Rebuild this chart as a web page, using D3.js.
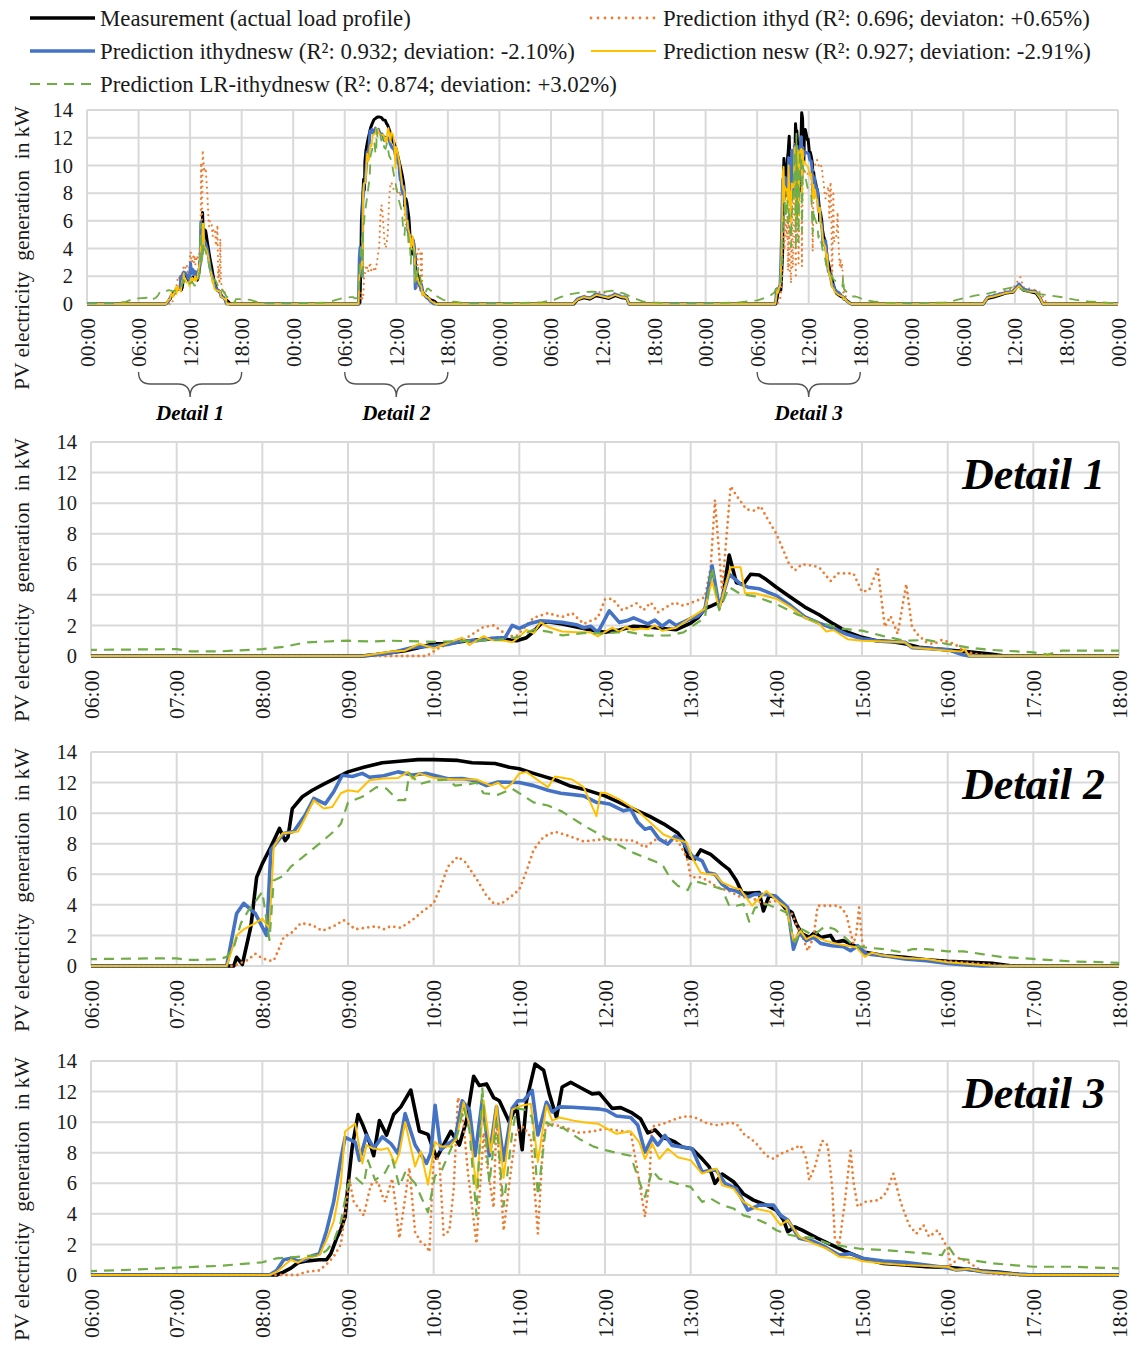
<!DOCTYPE html>
<html><head><meta charset="utf-8">
<script src="https://cdn.jsdelivr.net/npm/d3@7"></script>
<style>
html,body{margin:0;padding:0;background:#fff;}
svg text{font-family:"Liberation Serif","Times New Roman",serif;}
</style></head><body>
<svg id="chart" width="1137" height="1346"></svg>
<script>
// ---------------- DATA (time "HH:MM", value kW) ----------------
const legendLabels = [
  "Measurement (actual load profile)",
  "Prediction ithyd (R\u00B2: 0.696; deviaton: +0.65%)",
  "Prediction ithydnesw (R\u00B2: 0.932; deviation: -2.10%)",
  "Prediction nesw (R\u00B2: 0.927; deviation: -2.91%)",
  "Prediction LR-ithydnesw (R\u00B2: 0.874; deviation: +3.02%)"
];
const yTicks = [0,2,4,6,8,10,12,14];
const topTickLabels = ["00:00","06:00","12:00","18:00","00:00","06:00","12:00","18:00","00:00","06:00","12:00","18:00","00:00","06:00","12:00","18:00","00:00","06:00","12:00","18:00","00:00"];
const detailTickLabels = ["06:00","07:00","08:00","09:00","10:00","11:00","12:00","13:00","14:00","15:00","16:00","17:00","18:00"];
const detailTitles = ["Detail 1","Detail 2","Detail 3"];

// Day 1 (Detail 1)
const measDay1 = [["00:00",0],["09:10",0],["09:20",0.1],["09:40",0.35],["09:50",0.55],["10:00",0.8],["10:10",0.8],["10:20",0.95],["10:30",1.05],["10:45",1.15],["10:58",1.0],["11:05",1.2],["11:10",1.6],["11:15",2.1],["11:20",2.25],["11:30",2.1],["11:40",1.9],["11:50",1.7],["12:00",1.55],["12:10",1.7],["12:20",1.95],["12:30",1.9],["12:40",1.8],["12:50",1.72],["13:00",2.15],["13:05",2.5],["13:10",3.1],["13:15",3.3],["13:22",3.6],["13:27",6.6],["13:32",4.8],["13:37",4.7],["13:42",5.35],["13:48",5.3],["13:53",5.0],["14:00",4.5],["14:10",3.85],["14:20",3.2],["14:30",2.7],["14:40",2.1],["14:50",1.55],["15:00",1.22],["15:10",1.0],["15:20",0.95],["15:30",0.8],["15:40",0.57],["16:00",0.39],["16:15",0.28],["16:30",0.13],["16:40",0],["24:00",0]];
const ithydDay1 = [["00:00",0],["09:55",0],["10:05",0.6],["10:20",1.0],["10:35",1.9],["10:42",2.0],["10:48",1.6],["10:52",1.3],["10:58",1.3],["11:05",2.0],["11:10",2.5],["11:20",2.8],["11:30",2.55],["11:37",2.8],["11:45",2.1],["11:55",2.5],["12:00",3.7],["12:05",3.75],["12:12",3.0],["12:17",3.2],["12:22",3.45],["12:27",3.0],["12:32",3.5],["12:37",2.85],["12:43",3.2],["12:49",3.5],["12:54",3.3],["12:58",3.4],["13:04",3.6],["13:10",3.85],["13:14",5.8],["13:17",10.2],["13:22",4.3],["13:28",11.1],["13:32",10.5],["13:39",9.6],["13:45",9.5],["13:49",9.8],["13:53",9.1],["14:00",8.0],["14:09",6.0],["14:13",5.6],["14:18",6.0],["14:26",5.9],["14:30",5.8],["14:38",4.9],["14:43",5.4],["14:54",5.4],["15:00",4.2],["15:05",4.3],["15:11",5.7],["15:16",1.9],["15:20",2.6],["15:25",1.45],["15:31",4.7],["15:35",1.9],["15:39",1.4],["15:45",0.9],["15:50",0.78],["15:56",1.05],["16:05",0.78],["16:11",0.35],["16:19",0.13],["16:30",0],["24:00",0]];
const ithydneswDay1 = [["00:00",0],["09:10",0],["09:30",0.2],["09:45",0.55],["09:50",0.6],["10:00",0.65],["10:10",0.75],["10:20",1.0],["10:30",1.0],["10:40",1.15],["10:50",1.2],["10:55",2.0],["11:00",1.8],["11:08",2.15],["11:15",2.3],["11:30",2.2],["11:40",2.05],["11:45",1.85],["11:50",1.95],["11:55",1.55],["12:03",2.95],["12:10",2.2],["12:15",2.3],["12:20",2.5],["12:25",2.3],["12:30",2.1],["12:35",2.35],["12:40",1.95],["12:45",2.3],["12:50",2.0],["13:00",2.45],["13:05",2.6],["13:10",3.05],["13:15",5.9],["13:20",3.2],["13:27",5.35],["13:35",4.7],["13:40",4.5],["13:48",4.4],["14:00",3.95],["14:10",3.3],["14:20",2.55],["14:30",2.15],["14:40",1.8],["14:50",1.4],["15:00",1.13],["15:15",0.95],["15:30",0.9],["15:35",0.55],["15:45",0.5],["16:00",0.42],["16:10",0.1],["16:15",0],["24:00",0]];
const neswDay1 = [["00:00",0],["09:10",0],["09:20",0.15],["09:30",0.3],["09:40",0.35],["09:50",0.8],["10:00",0.5],["10:10",0.85],["10:20",1.2],["10:25",0.72],["10:35",1.3],["10:40",1.05],["10:50",1.0],["10:55",0.9],["11:00",1.25],["11:05",1.7],["11:10",1.5],["11:15",2.2],["11:20",1.9],["11:30",1.6],["11:40",1.55],["11:50",1.55],["11:55",1.28],["12:05",1.85],["12:10",1.6],["12:15",1.9],["12:20",1.7],["12:25",1.8],["12:30",1.75],["12:35",2.0],["12:40",1.65],["12:50",1.85],["13:00",2.5],["13:10",3.1],["13:15",4.9],["13:20",3.1],["13:28",5.8],["13:35",5.8],["13:38",4.1],["13:45",4.1],["14:00",3.75],["14:10",3.2],["14:20",2.5],["14:30",2.1],["14:35",1.6],["14:40",1.7],["14:50",1.1],["15:00",1.0],["15:15",0.95],["15:30",0.9],["15:35",0.55],["16:00",0.35],["16:10",0.3],["16:12",0.46],["16:15",0],["24:00",0]];
const lrDay1 = [["00:00",0.05],["03:00",0.05],["04:30",0.15],["05:30",0.4],["06:00",0.4],["07:00",0.45],["07:10",0.3],["07:30",0.3],["08:00",0.45],["08:15",0.6],["08:30",0.88],["08:45",0.95],["09:00",1.0],["09:15",0.95],["09:30",1.0],["10:00",0.93],["10:30",1.0],["10:45",1.05],["11:00",1.26],["11:10",1.74],["11:20",1.6],["11:30",1.35],["11:45",1.5],["12:00",1.48],["12:15",1.6],["12:30",1.33],["12:45",1.35],["12:55",1.55],["13:05",2.2],["13:10",2.5],["13:15",5.8],["13:20",3.0],["13:27",4.5],["13:35",4.05],["13:45",3.9],["14:00",3.4],["14:15",2.7],["14:30",2.2],["14:45",1.8],["15:00",1.66],["15:15",1.3],["15:30",1.0],["15:45",1.05],["16:00",0.78],["16:15",0.55],["16:30",0.4],["17:00",0.24],["17:10",0.1],["17:20",0.35],["18:00",0.35],["19:00",0.3],["20:00",0.1],["21:00",0.05],["24:00",0.05]];

// Day 2 (Detail 2)
const measDay2 = [["00:00",0],["07:40",0],["07:42",0.57],["07:46",0.1],["07:52",2.6],["07:56",5.8],["08:00",6.7],["08:06",7.8],["08:12",9.0],["08:16",8.2],["08:18",8.45],["08:21",10.3],["08:28",11.07],["08:35",11.5],["08:43",11.9],["08:51",12.27],["09:00",12.7],["09:11",13.0],["09:24",13.3],["09:36",13.4],["09:49",13.5],["10:00",13.5],["10:17",13.45],["10:27",13.3],["10:43",13.25],["10:53",13.0],["11:00",12.9],["11:10",12.6],["11:26",12.15],["11:35",11.8],["11:45",11.57],["12:00",11.13],["12:10",10.7],["12:20",10.26],["12:31",9.8],["12:41",9.3],["12:51",8.7],["12:55",8.2],["12:58",7.1],["13:03",7.0],["13:07",7.6],["13:14",7.3],["13:22",6.67],["13:27",6.3],["13:32",5.6],["13:36",4.8],["13:40",4.75],["13:48",4.8],["13:51",3.6],["13:55",4.6],["14:00",4.5],["14:06",3.8],["14:11",3.5],["14:14",2.75],["14:18",2.1],["14:23",1.87],["14:27",2.2],["14:31",1.87],["14:38",2.0],["14:41",1.55],["14:47",1.66],["14:52",1.44],["14:57",1.22],["15:02",0.9],["15:15",0.68],["15:30",0.57],["15:45",0.41],["16:00",0.3],["16:16",0.24],["16:31",0.17],["16:44",0.02],["17:00",0],["24:00",0]];
const ithydDay2 = [["00:00",0],["07:40",0],["07:50",0.4],["07:55",0.8],["08:00",0.5],["08:05",0.35],["08:08",0.35],["08:12",1.2],["08:15",1.9],["08:20",2.13],["08:27",2.8],["08:35",2.68],["08:42",2.3],["08:50",2.6],["08:57",3.0],["09:05",2.4],["09:12",2.5],["09:20",2.6],["09:25",2.4],["09:30",2.6],["09:37",2.5],["09:45",3.0],["09:52",3.55],["10:00",4.1],["10:05",5.2],["10:10",6.5],["10:17",7.15],["10:22",6.8],["10:30",5.7],["10:37",4.6],["10:42",4.1],["10:47",4.05],["10:55",4.6],["11:00",5.0],["11:05",6.2],["11:10",7.6],["11:17",8.45],["11:25",8.78],["11:33",8.56],["11:45",8.15],["12:00",8.3],["12:20",8.2],["12:28",7.75],["12:36",8.3],["12:44",8.2],["12:51",8.2],["12:55",7.5],["12:58",6.9],["13:00",5.8],["13:07",5.8],["13:12",5.58],["13:19",5.14],["13:27",4.9],["13:35",4.5],["13:42",4.5],["13:51",4.05],["13:58",4.27],["14:03",4.2],["14:11",3.4],["14:14",2.75],["14:18",2.0],["14:22",1.0],["14:26",1.87],["14:29",3.94],["14:34",3.94],["14:44",3.94],["14:49",3.4],["14:52",2.2],["14:54",1.44],["14:56",2.1],["14:58",3.83],["15:00",1.66],["15:03",0.78],["15:15",0.68],["15:30",0.5],["16:00",0.3],["16:30",0.1],["16:45",0],["24:00",0]];
const ithydneswDay2 = [["00:00",0],["07:35",0],["07:42",3.44],["07:47",4.1],["07:55",3.44],["08:03",2.0],["08:06",7.6],["08:15",8.67],["08:22",8.8],["08:30",9.87],["08:36",10.96],["08:44",10.6],["08:50",11.4],["08:56",12.48],["09:03",12.4],["09:10",12.6],["09:15",12.35],["09:25",12.45],["09:35",12.7],["09:45",12.5],["09:55",12.6],["10:00",12.48],["10:10",12.25],["10:20",12.26],["10:30",12.1],["10:37",11.8],["10:45",12.04],["11:00",12.0],["11:10",11.8],["11:20",11.5],["11:29",11.3],["11:45",11.13],["11:54",10.7],["11:57",10.7],["12:03",10.6],["12:13",10.15],["12:18",10.26],["12:23",9.4],["12:28",8.95],["12:32",9.06],["12:38",8.3],["12:44",7.97],["12:49",8.5],["12:54",8.2],["13:01",7.2],["13:08",6.88],["13:12",6.1],["13:17",6.0],["13:22",5.36],["13:27",5.0],["13:32",4.9],["13:40",4.5],["13:45",4.7],["13:53",4.66],["13:59",4.6],["14:03",4.27],["14:08",3.83],["14:12",1.1],["14:16",2.2],["14:21",1.66],["14:26",1.87],["14:31",1.48],["14:39",1.33],["14:47",1.26],["14:52",1.0],["14:57",1.33],["15:03",0.78],["15:15",0.68],["15:30",0.46],["15:45",0.35],["16:00",0.17],["16:11",0.09],["16:24",0],["24:00",0]];
const neswDay2 = [["00:00",0],["07:35",0],["07:42",2.0],["07:47",2.4],["07:55",2.8],["08:00",3.1],["08:05",2.46],["08:08",7.8],["08:14",8.67],["08:25",8.8],["08:30",9.7],["08:36",10.85],["08:43",10.3],["08:49",10.4],["08:55",11.3],["09:00",11.5],["09:07",11.4],["09:15",12.15],["09:25",12.26],["09:35",12.3],["09:42",12.7],["09:45",12.25],["09:50",12.6],["10:00",12.3],["10:15",12.2],["10:30",12.2],["10:40",11.8],["10:45",12.0],["10:50",11.6],["10:55",11.96],["11:00",12.6],["11:05",12.7],["11:13",12.15],["11:20",11.7],["11:25",12.4],["11:37",12.2],["11:45",11.7],["11:54",9.8],["11:57",11.35],["12:01",11.3],["12:10",10.9],["12:23",10.15],["12:33",9.28],["12:41",8.6],["12:49",8.3],["12:57",8.1],["13:01",7.1],["13:07",6.1],["13:12",6.0],["13:17",6.0],["13:22",5.47],["13:30",5.14],["13:35",5.0],["13:43",3.94],["13:53",4.9],["14:02",4.16],["14:07",3.8],["14:12",1.66],["14:17",2.3],["14:21",1.76],["14:26",2.0],["14:34",1.66],["14:43",1.44],["14:50",1.33],["14:56",1.22],["15:02",0.6],["15:07",0.87],["15:15",0.68],["15:30",0.52],["15:45",0.46],["16:00",0.24],["16:11",0.17],["16:31",0.02],["16:40",0],["24:00",0]];
const lrDay2 = [["00:00",0.05],["04:00",0.1],["05:00",0.3],["06:00",0.45],["06:45",0.5],["07:00",0.5],["07:08",0.4],["07:15",0.4],["07:30",0.45],["07:35",0.6],["07:40",1.2],["07:45",2.8],["07:50",3.6],["07:55",4.2],["08:00",4.85],["08:05",1.7],["08:08",5.6],["08:15",5.9],["08:20",6.5],["08:30",7.25],["08:40",8.0],["08:50",8.8],["08:55",9.3],["09:00",10.7],["09:10",11.07],["09:20",11.7],["09:27",11.6],["09:35",10.85],["09:40",10.85],["09:43",12.6],["09:50",11.9],["10:00",12.15],["10:10",12.2],["10:15",11.8],["10:25",11.9],["10:30",12.0],["10:35",11.3],["10:45",11.2],["10:55",11.6],["11:00",11.3],["11:10",10.7],["11:20",10.5],["11:30",10.1],["11:45",9.2],["12:00",8.4],["12:13",7.75],["12:20",7.4],["12:28",7.1],["12:36",6.8],["12:41",6.5],["12:46",5.7],["12:51",5.25],["12:58",4.97],["13:01",5.58],["13:07",5.45],["13:14",5.25],["13:22",5.03],["13:27",3.94],["13:32",3.94],["13:37",4.05],["13:41",2.9],["13:45",3.8],["13:53",4.05],["14:00",3.8],["14:07",3.5],["14:13",1.55],["14:18",2.4],["14:26",2.0],["14:34",2.6],["14:41",2.4],["14:48",1.87],["14:54",1.33],["15:02",1.22],["15:15",1.1],["15:28",0.9],["15:35",1.1],["15:45",1.1],["16:00",0.96],["16:11",0.96],["16:24",0.78],["16:37",0.6],["17:00",0.46],["17:27",0.3],["17:52",0.24],["18:00",0.2],["19:00",0.15],["20:00",0.05],["24:00",0.05]];

// Day 3 (overview only)
const measDay3 = [["00:00",0],["08:40",0],["09:05",0.3],["09:50",0.45],["10:30",0.35],["11:15",0.6],["12:00",0.5],["12:45",0.4],["13:30",0.6],["14:15",0.45],["14:50",0.4],["15:05",0],["24:00",0]];
const ithydDay3 = [["00:00",0],["08:40",0],["09:05",0.4],["09:50",0.6],["10:30",0.5],["11:15",0.8],["12:00",0.9],["12:45",0.6],["13:30",0.8],["14:15",0.6],["14:50",0.5],["15:10",0],["24:00",0]];
const ithydneswDay3 = [["00:00",0],["08:34",0],["09:04",0.36],["09:48",0.53],["10:32",0.43],["11:16",0.72],["12:00",0.6],["12:44",0.48],["13:28",0.72],["14:12",0.53],["14:48",0.48],["15:05",0],["24:00",0]];
const neswDay3 = [["00:00",0],["08:34",0],["09:04",0.3],["09:48",0.5],["10:32",0.4],["11:16",0.65],["12:00",0.55],["12:44",0.45],["13:28",0.65],["14:12",0.5],["14:48",0.45],["15:05",0],["24:00",0]];
const lrDay3 = [["00:00",0.05],["04:54",0.12],["06:22",0.3],["07:06",0.5],["08:19",0.72],["09:33",0.84],["10:46",0.9],["11:45",0.85],["13:13",0.96],["14:27",0.77],["15:26",0.48],["16:40",0.19],["17:53",0.12],["19:36",0.05],["24:00",0.05]];

// Day 4 (Detail 3)
const measDay4 = [["00:00",0],["08:10",0],["08:15",0.2],["08:20",0.45],["08:25",0.8],["08:30",0.9],["08:40",1.0],["08:45",1.0],["08:48",1.4],["08:52",2.4],["08:55",3.0],["08:58",3.8],["09:00",5.9],["09:03",8.4],["09:07",10.5],["09:10",9.9],["09:15",8.7],["09:18",7.8],["09:22",10.1],["09:27",9.15],["09:32",10.5],["09:37",11.0],["09:44",12.1],["09:50",9.4],["09:56",9.2],["10:02",7.65],["10:12",9.4],["10:18",8.5],["10:23",10.1],["10:28",13.0],["10:32",12.4],["10:37",12.5],["10:42",11.6],["10:46",11.4],["10:53",10.0],["10:58",11.1],["11:02",8.2],["11:05",11.4],["11:11",13.8],["11:17",13.4],["11:21",11.85],["11:26",10.3],["11:30",12.3],["11:36",12.6],["11:42",12.3],["11:51",11.85],["11:56",11.9],["12:05",10.9],["12:11",10.95],["12:19",10.6],["12:25",10.2],["12:30",9.3],["12:35",9.5],["12:40",9.0],["12:44",8.9],["12:49",8.7],["12:54",8.37],["13:01",8.26],["13:08",7.6],["13:13",7.07],["13:17",6.0],["13:22",6.6],["13:30",6.1],["13:37",5.3],["13:44",4.9],["13:53",4.57],["14:00",4.24],["14:05",3.6],["14:08",2.83],["14:13",3.15],["14:18",2.93],["14:29",2.4],["14:39",1.96],["14:49",1.52],["15:00",1.1],["15:15",0.76],["15:30",0.65],["15:45",0.54],["16:00",0.5],["16:11",0.4],["16:24",0.26],["16:37",0.17],["16:50",0.04],["17:00",0],["24:00",0]];
const ithydDay4 = [["00:00",0],["08:25",0],["08:30",0.2],["08:40",0.3],["08:45",0.7],["08:50",1.2],["08:55",2.0],["09:01",6.2],["09:04",4.8],["09:11",3.9],["09:16",5.9],["09:21",6.1],["09:24",5.2],["09:26",4.8],["09:31",6.3],["09:34",4.1],["09:36",2.4],["09:43",7.0],["09:47",2.8],["09:51",2.15],["09:55",1.9],["09:57",1.5],["10:00",7.8],["10:04",7.5],["10:07",2.6],["10:11",2.9],["10:14",5.6],["10:17",11.6],["10:20",10.8],["10:24",6.7],["10:30",2.05],["10:35",9.3],["10:37",7.5],["10:42",4.4],["10:44",10.3],["10:49",2.9],["10:55",7.5],["10:58",9.4],["11:03",9.7],["11:08",9.0],["11:13",2.7],["11:17",9.3],["11:21",9.9],["11:26",9.8],["11:33",9.6],["11:42",9.3],["11:52",9.4],["12:00",9.57],["12:08",9.46],["12:18",9.35],["12:23",6.7],["12:28",3.8],["12:31",6.1],["12:33",9.7],["12:41",9.9],["12:51",10.26],["12:58",10.4],["13:04",10.26],["13:12",9.9],["13:19",9.8],["13:27",9.96],["13:32",9.9],["13:37",9.24],["13:45",8.7],["13:53",7.8],["13:58",7.6],["14:03",7.93],["14:09",8.15],["14:17",8.48],["14:21",7.6],["14:23",6.2],["14:27",7.07],["14:32",8.8],["14:36",8.48],["14:39",5.87],["14:41",2.4],["14:44",1.96],["14:48",4.78],["14:52",8.15],["14:54",6.1],["14:57",4.46],["15:02",4.78],["15:12",4.9],["15:17",5.4],["15:22",6.63],["15:27",4.78],["15:33",3.26],["15:38",2.7],["15:43",3.26],["15:47",2.5],["15:53",2.93],["16:00",1.74],["16:02",0.65],["16:08",1.1],["16:14",0.87],["16:21",0.43],["16:29",0.1],["16:40",0],["24:00",0]];
const ithydneswDay4 = [["00:00",0],["08:05",0],["08:10",0.3],["08:15",1.0],["08:20",1.1],["08:25",0.9],["08:30",1.0],["08:35",1.26],["08:40",1.4],["08:45",2.9],["08:50",4.8],["08:55",7.6],["08:58",9.0],["09:05",8.7],["09:08",7.5],["09:13",9.15],["09:18",8.28],["09:24",9.04],["09:30",8.6],["09:35",7.95],["09:40",10.56],["09:47",8.5],["09:55",7.3],["09:58",8.0],["10:01",11.1],["10:05",8.2],["10:09",8.5],["10:15",8.9],["10:20",11.4],["10:25",10.8],["10:29",7.8],["10:34",11.4],["10:39",7.8],["10:44",11.0],["10:49",7.5],["10:55",10.9],["10:59",11.4],["11:03",11.4],["11:09",12.07],["11:13",9.16],["11:19",11.3],["11:23",10.67],["11:28",11.0],["11:37",10.97],["11:55",10.87],["12:01",10.78],["12:08",10.4],["12:18",10.3],["12:23",9.8],["12:28",8.04],["12:33",9.0],["12:37",8.5],["12:42",9.13],["12:47",8.48],["12:54",8.37],["13:01",8.26],["13:08",6.74],["13:14",6.85],["13:18",6.85],["13:24",6.0],["13:32",5.65],["13:40",4.24],["13:48",4.57],["13:58",4.57],["14:03",3.9],["14:08",3.6],["14:16",2.4],["14:26",2.2],["14:34",1.85],["14:44",1.3],["14:52",1.4],["15:00",1.1],["15:15",0.91],["15:30",0.83],["15:45",0.65],["16:00",0.48],["16:06",0.33],["16:14",0.4],["16:24",0.22],["16:50",0.04],["17:02",0],["24:00",0]];
const neswDay4 = [["00:00",0],["08:05",0],["08:10",0.2],["08:15",0.6],["08:20",1.0],["08:25",0.8],["08:30",1.1],["08:35",1.2],["08:40",1.3],["08:45",2.3],["08:50",3.5],["08:55",6.0],["08:58",9.4],["09:05",9.9],["09:10",7.3],["09:13",8.5],["09:17",8.3],["09:23",8.2],["09:28",8.3],["09:33",7.26],["09:36",8.0],["09:40",10.0],["09:47",7.1],["09:51",8.1],["09:56",5.9],["10:01",8.7],["10:05",8.4],["10:11",8.4],["10:16",8.9],["10:21",11.3],["10:25",9.8],["10:30",5.6],["10:35",11.4],["10:40",8.0],["10:44",11.1],["10:49",6.36],["10:55",10.8],["10:59",11.0],["11:03",11.1],["11:08",11.2],["11:13",7.4],["11:19",11.1],["11:23",10.1],["11:28",10.3],["11:38",10.1],["11:45",10.0],["11:55",9.9],["12:08",9.24],["12:18",9.4],["12:24",8.7],["12:28",7.6],["12:33",8.6],["12:38",7.6],["12:44",8.26],["12:51",7.7],["13:00",7.5],["13:08",6.63],["13:14",6.85],["13:18",6.96],["13:22",5.87],["13:30",5.65],["13:37",4.78],["13:45",4.35],["13:56",4.13],["14:03",3.26],["14:08",3.6],["14:16",2.5],["14:26",2.07],["14:36",1.7],["14:44",1.2],["14:54",1.1],["15:00",0.91],["15:15",0.76],["15:30",0.65],["15:45",0.59],["16:00",0.54],["16:05",0.33],["16:14",0.4],["16:24",0.22],["16:50",0.04],["16:57",0],["24:00",0]];
const lrDay4 = [["00:00",0.05],["03:55",0.12],["05:00",0.2],["06:00",0.26],["06:30",0.35],["07:00",0.48],["07:30",0.6],["08:00",0.83],["08:10",1.09],["08:20",1.15],["08:30",1.24],["08:40",1.3],["08:45",1.6],["08:50",2.2],["08:55",3.5],["09:00",5.9],["09:05",6.4],["09:11",5.9],["09:14",7.5],["09:19",6.2],["09:26",6.7],["09:31",7.6],["09:36",5.8],["09:40",6.7],["09:47",6.0],["09:56",4.1],["10:01",6.5],["10:05",6.7],["10:10",7.8],["10:17",9.3],["10:21",11.0],["10:25",9.5],["10:30",3.9],["10:34",12.3],["10:39",6.0],["10:44",10.0],["10:49",4.5],["10:55",9.3],["10:58",10.9],["11:05",10.8],["11:09",10.3],["11:13",5.2],["11:19",10.0],["11:24",9.7],["11:31",9.6],["11:42",8.9],["11:52",8.4],["12:01",8.15],["12:10",7.95],["12:18",7.8],["12:23",6.4],["12:28",5.1],["12:33",6.85],["12:38",6.3],["12:46",6.1],["12:54",5.87],["13:00",5.76],["13:08",4.78],["13:14",5.0],["13:22",4.57],["13:30",4.35],["13:37",3.9],["13:45",3.7],["13:53",3.37],["14:00",2.93],["14:08",2.65],["14:16",2.5],["14:26",2.43],["14:36",2.07],["14:49",1.85],["15:00",1.7],["15:15",1.63],["15:30",1.52],["15:45",1.41],["15:56",1.3],["16:00",1.96],["16:06",1.09],["16:16",0.98],["16:32",0.76],["16:50",0.61],["17:00",0.54],["17:28",0.54],["18:00",0.43],["18:19",0.3],["19:33",0.19],["21:00",0.1],["24:00",0.05]];

// Day 5 (overview only)
const measDay5 = [["00:00",0],["08:19",0],["08:48",0.4],["09:33",0.5],["10:17",0.65],["11:01",0.8],["11:45",0.85],["12:29",1.4],["12:58",1.0],["13:42",0.9],["14:26",0.8],["14:56",0.4],["15:16",0],["24:00",0]];
const ithydDay5 = [["00:00",0],["08:30",0],["09:00",0.6],["09:40",0.7],["10:20",0.8],["11:00",1.0],["11:45",1.1],["12:38",1.93],["13:00",1.2],["13:45",1.1],["14:30",1.0],["15:00",0.8],["15:30",0.3],["15:45",0],["24:00",0]];
const ithydneswDay5 = [["00:00",0],["08:19",0],["08:48",0.48],["09:33",0.6],["10:17",0.72],["11:01",0.84],["11:45",0.9],["12:29",1.45],["12:58",1.08],["13:42",0.96],["14:26",0.9],["14:56",0.48],["15:16",0],["24:00",0]];
const neswDay5 = [["00:00",0],["08:19",0],["08:48",0.45],["09:33",0.55],["10:17",0.68],["11:01",0.8],["11:45",0.85],["12:29",1.3],["12:58",1.0],["13:42",0.9],["14:26",0.85],["14:56",0.45],["15:16",0],["24:00",0]];
const lrDay5 = [["00:00",0.05],["03:55",0.12],["04:54",0.24],["06:06",0.43],["07:20",0.6],["08:33",0.72],["09:47",0.9],["10:46",1.08],["11:45",1.2],["12:43",1.08],["13:42",0.84],["14:56",0.72],["16:09",0.6],["17:37",0.48],["19:05",0.3],["20:33",0.19],["22:01",0.12],["24:00",0.05]];

// ---------------- BUILD ----------------
const days = [
  [measDay1, ithydDay1, ithydneswDay1, neswDay1, lrDay1],
  [measDay2, ithydDay2, ithydneswDay2, neswDay2, lrDay2],
  [measDay3, ithydDay3, ithydneswDay3, neswDay3, lrDay3],
  [measDay4, ithydDay4, ithydneswDay4, neswDay4, lrDay4],
  [measDay5, ithydDay5, ithydneswDay5, neswDay5, lrDay5]
];
const styles = [
  {color:"#000000", width:3.6, dash:null, cap:"butt"},
  {color:"#ED7D31", width:2.8, dash:"0,5.5", cap:"round"},
  {color:"#4472C4", width:3.6, dash:null, cap:"butt"},
  {color:"#FFC000", width:2.0, dash:null, cap:"butt"},
  {color:"#70AD47", width:2.2, dash:"10,7", cap:"butt"}
];
const hrs = s => { const p = s.split(":"); return +p[0] + (+p[1])/60; };

const svg = d3.select("#chart");
svg.append("rect").attr("width",1137).attr("height",1346).attr("fill","#fff");

const panels = [
  {top:110, bottom:304, left:87, right:1118, domain:[0,120], ticks:d3.range(0,121,6), labels:topTickLabels, overview:true},
  {top:442, bottom:656, left:91, right:1119, domain:[6,18], ticks:d3.range(6,19,1), labels:detailTickLabels, day:0, title:detailTitles[0]},
  {top:752, bottom:966, left:91, right:1119, domain:[6,18], ticks:d3.range(6,19,1), labels:detailTickLabels, day:1, title:detailTitles[1]},
  {top:1061, bottom:1275, left:91, right:1119, domain:[6,18], ticks:d3.range(6,19,1), labels:detailTickLabels, day:3, title:detailTitles[2]}
];

panels.forEach((p, pi) => {
  const x = d3.scaleLinear().domain(p.domain).range([p.left, p.right]);
  const y = d3.scaleLinear().domain([0,14]).range([p.bottom, p.top]);
  const g = svg.append("g");

  // grid
  g.append("g").selectAll("line").data(yTicks).join("line")
    .attr("x1", p.left).attr("x2", p.right).attr("y1", d=>y(d)).attr("y2", d=>y(d))
    .attr("stroke","#d9d9d9").attr("stroke-width",2);
  g.append("g").selectAll("line").data(p.ticks).join("line")
    .attr("x1", d=>x(d)).attr("x2", d=>x(d)).attr("y1", p.top).attr("y2", p.bottom)
    .attr("stroke","#d9d9d9").attr("stroke-width",2);

  // y tick labels
  g.append("g").selectAll("text").data(yTicks).join("text")
    .attr("x", p.left - 14).attr("y", d=>y(d)).attr("dy","0.35em")
    .attr("text-anchor","end").attr("font-size","20.5px").attr("fill","#1a1a1a")
    .text(d=>d);

  // x tick labels
  g.append("g").selectAll("text").data(p.ticks).join("text")
    .attr("transform", (d)=>`translate(${x(d)},${p.bottom+14}) rotate(-90)`)
    .attr("dy","0.35em").attr("text-anchor","end").attr("font-size","21.5px").attr("fill","#1a1a1a")
    .text((d,i)=>p.labels[i]);

  // y axis title
  g.append("text")
    .attr("transform", `translate(29,${p.top+138}) rotate(-90)`)
    .attr("text-anchor","middle").attr("font-size","21.5px").attr("fill","#1a1a1a")
    .style("white-space","pre")
    .text("PV electricity  generation  in kW");

  // clip
  const cid = "clip"+pi;
  svg.append("clipPath").attr("id",cid).append("rect")
    .attr("x", p.left).attr("y", p.top-6).attr("width", p.right-p.left).attr("height", p.bottom-p.top+10);

  const line = d3.line().x(d=>x(d[0])).y(d=>y(d[1])).curve(d3.curveLinear);
  const lg = g.append("g").attr("clip-path",`url(#${cid})`);
  for (let s=0; s<5; s++) {
    let pts;
    if (p.overview) {
      pts = days.flatMap((dd,di)=> dd[s].map(q=>[di*24 + hrs(q[0]), q[1]]));
    } else {
      pts = days[p.day][s].map(q=>[hrs(q[0]), q[1]]);
    }
    const st = styles[s];
    lg.append("path").datum(pts).attr("d", line)
      .attr("fill","none").attr("stroke", st.color)
      .attr("stroke-width", p.overview ? Math.max(1.8, st.width-0.6) : st.width)
      .attr("stroke-dasharray", st.dash).attr("stroke-linecap", st.cap)
      .attr("stroke-linejoin","round");
  }

  if (p.title) {
    g.append("text").attr("x", 1105).attr("y", p.top+47).attr("text-anchor","end")
      .attr("font-size","44px").attr("font-weight","bold").attr("font-style","italic")
      .attr("fill","#000").text(p.title);
  }

  if (p.overview) {
    // braces marking detail days
    const braceDays = [0,1,3];
    braceDays.forEach((bd, bi) => {
      const xa = x(bd*24+6), xb = x(bd*24+18), xm = (xa+xb)/2;
      const yt = 372, yh = 384, yp = 397, r = 12;
      const path = `M${xa},${yt} Q${xa},${yh} ${xa+r},${yh} L${xm-r},${yh} Q${xm},${yh} ${xm},${yp} Q${xm},${yh} ${xm+r},${yh} L${xb-r},${yh} Q${xb},${yh} ${xb},${yt}`;
      g.append("path").attr("d", path).attr("fill","none").attr("stroke","#555").attr("stroke-width",1.4);
      g.append("text").attr("x", xm).attr("y", 420).attr("text-anchor","middle")
        .attr("font-size","21px").attr("font-weight","bold").attr("font-style","italic")
        .attr("fill","#000").text(detailTitles[bi]);
    });
  }
});

// legend
const legendPos = [
  {x1:30, x2:95, y:18, tx:100},
  {x1:591, x2:655, y:18, tx:663},
  {x1:30, x2:95, y:51, tx:100},
  {x1:591, x2:656, y:51, tx:663},
  {x1:30, x2:95, y:84, tx:100}
];
const lgd = svg.append("g");
legendPos.forEach((lp, i) => {
  const st = styles[i];
  lgd.append("line").attr("x1", lp.x1).attr("x2", lp.x2).attr("y1", lp.y).attr("y2", lp.y)
    .attr("stroke", st.color).attr("stroke-width", st.width)
    .attr("stroke-dasharray", i===1 ? "0,7" : st.dash).attr("stroke-linecap", st.cap);
  lgd.append("text").attr("x", lp.tx).attr("y", lp.y).attr("dy","0.35em")
    .attr("font-size","22.8px").attr("fill","#1a1a1a").style("white-space","pre")
    .text(legendLabels[i]);
});
</script>
</body></html>
